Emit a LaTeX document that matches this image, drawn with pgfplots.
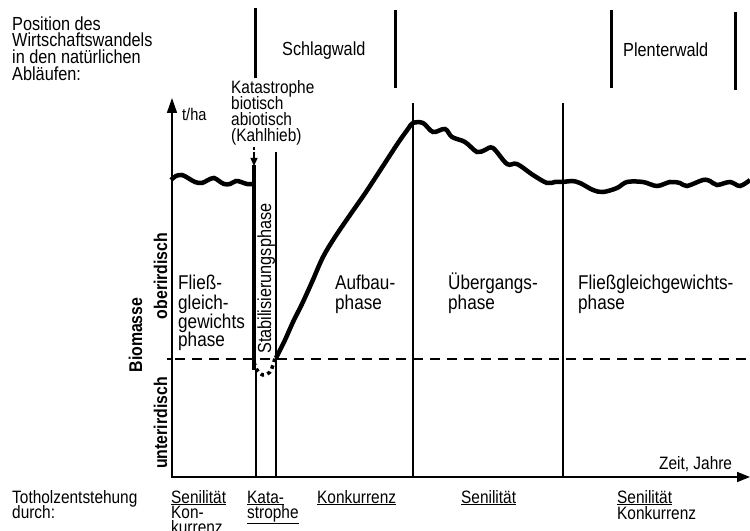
\documentclass[border=0pt]{standalone}
\usepackage{pgfplots}
\pgfplotsset{compat=1.18}
\usetikzlibrary{arrows.meta}
\usepackage{fontspec}
\setmainfont{Liberation Sans}[FakeStretch=0.86]
\newcommand{\fs}[1]{\fontsize{#1}{#1}\selectfont}
\begin{document}
\begin{tikzpicture}
\useasboundingbox (0,0) rectangle (750bp,531bp);
\clip (0,0) rectangle (750bp,531bp);
\begin{axis}[at={(0,0)}, anchor=south west, scale only axis,
  width=750bp, height=531bp, xmin=0, xmax=750, ymin=-531, ymax=0,
  hide axis, clip=false]
% --- biomass curve ---
\addplot[black, line width=4.5bp, smooth, tension=0.6] coordinates {
 (171,-180) (176,-176) (182,-175) (188,-178) (195,-182) (202,-183) (208,-180)
 (214,-178) (219,-181) (224,-184) (230,-184) (236,-181) (241,-182) (247,-184) (253,-184)};
\addplot[black, line width=4.5bp] coordinates {(251,-184) (254,-184) (254,-358)};
\addplot[black, line width=3.5bp, dash pattern=on 3.5bp off 3.5bp, smooth] coordinates {
 (254,-362) (257,-370) (263,-375) (270,-372) (273,-365) (275,-358)};
\addplot[black, line width=4.5bp, smooth, tension=0.55] coordinates {
 (276,-358) (285,-340) (293,-322) (302,-304) (312,-282) (323,-257) (335,-237)
 (350,-215) (366,-192) (383,-166) (398,-143) (408,-129) (413,-123)
 (423,-123) (433,-132) (445,-129) (452,-137) (465,-142) (477,-152) (485,-150)
 (493,-148) (507,-164) (517,-164) (533,-175) (547,-183) (555,-182) (563,-182)
 (572,-181) (580,-183) (593,-190) (603,-192) (617,-188) (627,-182) (643,-182)
 (657,-186) (670,-182) (680,-183) (687,-186) (703,-180) (710,-181) (717,-185)
 (730,-182) (740,-186) (750,-180)};
% --- axes ---
\draw[line width=1.6bp, -{Triangle[length=15bp,width=10bp]}] (172,-477) -- (172,-98);
\draw[line width=1.6bp, -{Triangle[length=13bp,width=10bp]}] (171,-477) -- (750,-477);
\draw[line width=1.2bp] (167,-359) -- (172,-359);
\draw[line width=1.8bp, dash pattern=on 10bp off 7bp] (175,-359) -- (750,-359);
% --- vertical separators ---
\draw[line width=1.3bp] (276,-152) -- (276,-477);
\draw[line width=1.3bp] (413,-103) -- (413,-477);
\draw[line width=1.3bp] (563,-103) -- (563,-477);
\draw[line width=1.3bp] (256,-370) -- (256,-477);
\draw[line width=3.5bp] (254,-165) -- (254,-370);
\draw[line width=1.2bp, dash pattern=on 3bp off 2bp] (254,-147) -- (254,-156);
\draw[line width=1.2bp, -{Triangle[length=8bp,width=7bp]}] (254,-155) -- (254,-166);
% --- top bars ---
\draw[line width=3bp] (255,-8) -- (255,-78);
\draw[line width=3bp] (395,-10) -- (395,-88);
\draw[line width=3bp] (611,-10) -- (611,-88);
\draw[line width=3bp] (735,-12) -- (735,-90);
% --- texts ---
\begin{scope}[every node/.style={inner sep=0pt, anchor=base west}]
\node[font=\fs{19}] at (12,-30.5) {Position des};
\node[font=\fs{19}] at (12,-47) {Wirtschaftswandels};
\node[font=\fs{19}] at (12,-64) {in den natürlichen};
\node[font=\fs{19}] at (12,-81) {Abläufen:};
\node[font=\fs{19}] at (282,-56) {Schlagwald};
\node[font=\fs{19}] at (623,-57) {Plenterwald};
\node[font=\fs{18}] at (231,-94) {Katastrophe};
\node[font=\fs{18}] at (231,-110) {biotisch};
\node[font=\fs{18}] at (231,-126) {abiotisch};
\node[font=\fs{18}] at (231,-142) {(Kahlhieb)};
\node[font=\fs{17}] at (182,-121) {t/ha};
\node[font=\fs{20}] at (178,-290) {Fließ-};
\node[font=\fs{20}] at (178,-310) {gleich-};
\node[font=\fs{20}] at (178,-329) {gewichts};
\node[font=\fs{20}] at (178,-347) {phase};
\node[font=\fs{20}] at (335,-290) {Aufbau-};
\node[font=\fs{20}] at (335,-310) {phase};
\node[font=\fs{20}] at (448,-290) {Übergangs-};
\node[font=\fs{20}] at (448,-310) {phase};
\node[font=\fs{20}] at (578,-290) {Fließgleichgewichts-};
\node[font=\fs{20}] at (578,-310) {phase};
\node[font=\fs{19}, rotate=90] at (271,-354) {Stabilisierungsphase};
\node[font=\fs{18.5}\bfseries, rotate=90, anchor=base] at (142,-335) {Biomasse};
\node[font=\fs{18.5}\bfseries, rotate=90, anchor=base] at (167,-276) {oberirdisch};
\node[font=\fs{18.5}\bfseries, rotate=90, anchor=base] at (167,-423) {unterirdisch};
\node[font=\fs{18}] at (659,-470) {Zeit, Jahre};
\node[font=\fs{18}] at (12,-503) {Totholzentstehung};
\node[font=\fs{18}] at (12,-518) {durch:};
\node[font=\fs{18}] at (171,-503) {\underline{Senilität}};
\node[font=\fs{18}] at (171,-518) {Kon-};
\node[font=\fs{18}] at (171,-533) {kurrenz};
\node[font=\fs{18}] at (247,-503) {\underline{Kata-}};
\node[font=\fs{18}] at (247,-518) {\underline{strophe}};
\node[font=\fs{18}] at (317,-503) {\underline{Konkurrenz}};
\node[font=\fs{18}] at (461,-503) {\underline{Senilität}};
\node[font=\fs{18}] at (617,-503) {\underline{Senilität}};
\node[font=\fs{18}] at (617,-519) {Konkurrenz};
\end{scope}
\end{axis}
\end{tikzpicture}
\end{document}
